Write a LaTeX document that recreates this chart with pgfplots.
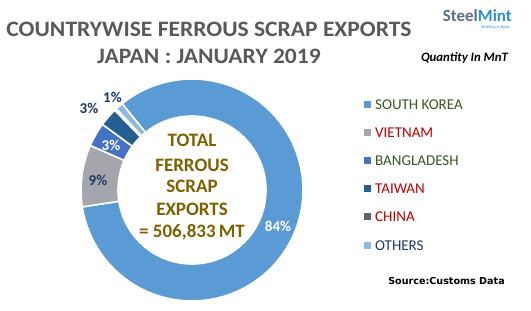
\documentclass[border=0pt]{standalone}
\usepackage{pgfplots}
\usepackage{pgfplotstable}
\pgfplotsset{compat=1.18}
\usepackage{fontspec}
\setmainfont{Carlito}
\newfontfamily\srcfont{DejaVu Sans}
\definecolor{cSK}{HTML}{5B9BD5}
\definecolor{cVN}{HTML}{A5A5AD}
\definecolor{cBD}{HTML}{4472C4}
\definecolor{cTW}{HTML}{255E91}
\definecolor{cCN}{HTML}{636363}
\definecolor{cOT}{HTML}{8DB8E6}
\definecolor{ttl}{HTML}{595959}
\definecolor{gold}{HTML}{7F6000}
\definecolor{navy}{HTML}{1F3864}
\definecolor{lgreen}{HTML}{375623}
\definecolor{lred}{HTML}{C00000}
\definecolor{smgray}{HTML}{5E6E80}
\definecolor{smblue}{HTML}{2E8FD6}

\pgfplotstableread{
idx value
0 83.4
1 9.0
2 3.5
3 2.7
4 0.3
5 1.1
}\piedata

\pgfmathsetmacro\aS{129}
\pgfplotstablegetelem{0}{value}\of\piedata \pgfmathsetmacro\aA{\aS-3.6*\pgfplotsretval}
\pgfplotstablegetelem{1}{value}\of\piedata \pgfmathsetmacro\aB{\aA-3.6*\pgfplotsretval}
\pgfplotstablegetelem{2}{value}\of\piedata \pgfmathsetmacro\aC{\aB-3.6*\pgfplotsretval}
\pgfplotstablegetelem{3}{value}\of\piedata \pgfmathsetmacro\aD{\aC-3.6*\pgfplotsretval}
\pgfplotstablegetelem{4}{value}\of\piedata \pgfmathsetmacro\aE{\aD-3.6*\pgfplotsretval}
\pgfplotstablegetelem{5}{value}\of\piedata \pgfmathsetmacro\aF{\aE-3.6*\pgfplotsretval}

\def\cx{192}
\def\cy{121}
\def\Ro{111}
\def\Ri{74}

\newcommand\slice[3]{% color, from (larger), to (smaller)
  \addplot[fill=#1, draw=white, line width=1.6pt, domain=#3:#2, samples=90]
    ({\cx+\Ro*cos(x)},{\cy+\Ro*sin(x)})
    -- (axis cs:{\cx+\Ri*cos(#2)},{\cy+\Ri*sin(#2)})
    arc[start angle=#2, end angle=#3, radius=\Ri] -- cycle;
}
\tikzset{ctr/.style={anchor=base, text=gold, font=\fontsize{19bp}{22bp}\selectfont\bfseries, inner sep=0pt},
  pct/.style={font=\fontsize{15bp}{16bp}\selectfont\bfseries, inner sep=0pt},
  ttlst/.style={anchor=base, text=ttl, font=\fontsize{22bp}{26bp}\selectfont\bfseries, inner sep=0pt, xscale=1.07, transform shape}}

\begin{document}
\begin{tikzpicture}
\useasboundingbox (0,0) rectangle (531bp,311bp);
\begin{axis}[
  at={(0,0)}, anchor=south west,
  scale only axis, width=531bp, height=311bp,
  xmin=0, xmax=531, ymin=0, ymax=311,
  hide axis, clip=false,
  legend image code/.code={\path[#1, draw=none] (0bp,-3.5bp) rectangle (7bp,3.5bp);},
  legend style={at={(axis cs:361,214)}, anchor=north west, draw=none, fill=none,
    font=\fontsize{15bp}{16bp}\selectfont,
    nodes={inner sep=0pt, text height=10bp, text depth=0bp, anchor=west},
    row sep=18.2bp, column sep=4bp},
  legend cell align=left,
]
\slice{cSK}{\aS}{\aA}
\addlegendentry{\textcolor{lgreen}{SOUTH KOREA}}
\slice{cVN}{\aA}{\aB}
\addlegendentry{\textcolor{lred}{VIETNAM}}
\slice{cBD}{\aB}{\aC}
\addlegendentry{\textcolor{lgreen}{BANGLADESH}}
\slice{cTW}{\aC}{\aD}
\addlegendentry{\textcolor{lred}{TAIWAN}}
\slice{cCN}{\aD}{\aE}
\addlegendentry{\textcolor{lred}{CHINA}}
\slice{cOT}{\aE}{\aF}
\addlegendentry{\textcolor{navy}{OTHERS}}

% titles
\node[ttlst] at (axis cs:209,274) {COUNTRYWISE FERROUS SCRAP EXPORTS};
\node[ttlst] at (axis cs:209,247.7) {JAPAN : JANUARY 2019};

% logo
\node[anchor=base east, font=\fontsize{17bp}{18bp}\selectfont\bfseries, inner sep=0pt, text depth=0pt] at (axis cs:512,289.5) {\textcolor{smgray}{Steel}\textcolor{smblue}{Mint}};
\node[anchor=base east, font=\fontsize{4.5bp}{5bp}\selectfont, text=smblue, inner sep=0pt, text height=3.2bp] at (axis cs:510,282.5) {Steeling is Basic};
\node[anchor=base, font=\fontsize{12.8bp}{14bp}\selectfont\bfseries\itshape, inner sep=0pt] at (axis cs:464.5,249) {Quantity In MnT};

% centre text
\node[ctr] at (axis cs:192,164) {TOTAL};
\node[ctr] at (axis cs:192,139.5) {FERROUS};
\node[ctr] at (axis cs:192,118) {SCRAP};
\node[ctr] at (axis cs:192,95) {EXPORTS};
\node[ctr] at (axis cs:192,73) {= 506,833\,MT};

% percentage labels
\node[pct, text=white] at (axis cs:278,84.5) {84\%};
\node[pct, text=navy] at (axis cs:98,131) {9\%};
\node[pct, text=white] at (axis cs:111,166) {3\%};
\node[pct, text=navy] at (axis cs:89,202.5) {3\%};
\node[pct, text=navy] at (axis cs:112.5,214) {1\%};

% source
\node[anchor=base, font=\srcfont\fontsize{9.6bp}{11bp}\selectfont\bfseries, inner sep=0pt] at (axis cs:446.5,26.5) {Source:Customs Data};
\end{axis}
\end{tikzpicture}
\end{document}
